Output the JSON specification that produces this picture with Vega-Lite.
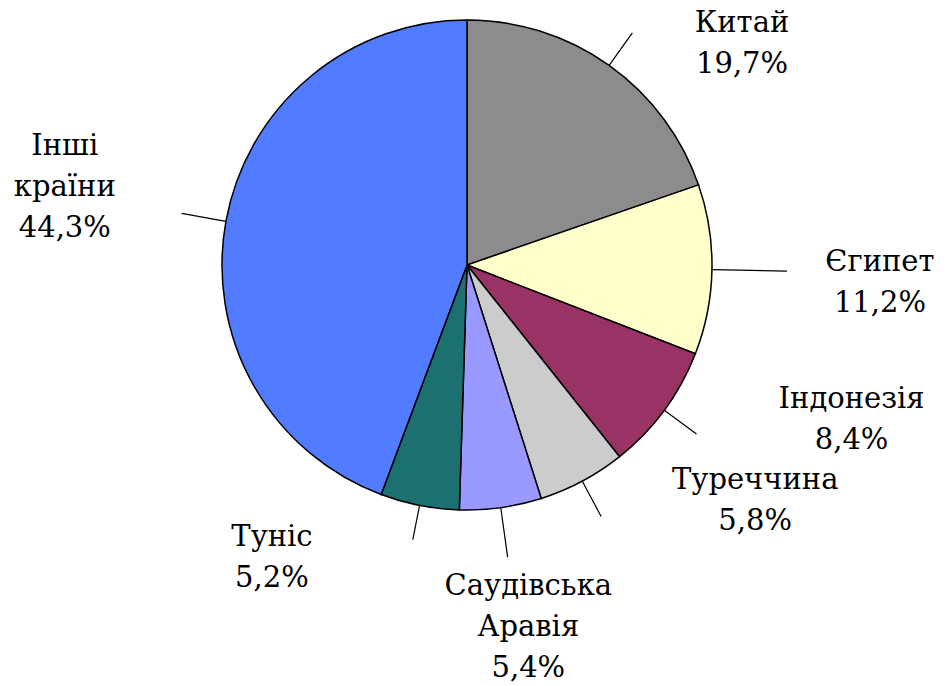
{
  "$schema": "https://vega.github.io/schema/vega-lite/v6.json",
  "width": 934,
  "height": 530,
  "autosize": {"type": "none"},
  "padding": {"left": 0, "top": 0, "right": 14, "bottom": 156},
  "background": "white",
  "config": {"view": {"stroke": null}},
  "data": {
    "values": [
      {"country": "Китай", "label": "Китай\n19,7%", "share": 19.7, "order": 1},
      {"country": "Єгипет", "label": "Єгипет\n11,2%", "share": 11.2, "order": 2},
      {"country": "Індонезія", "label": "Індонезія\n8,4%", "share": 8.4, "order": 3},
      {"country": "Туреччина", "label": "Туреччина\n5,8%", "share": 5.8, "order": 4},
      {"country": "Саудівська Аравія", "label": "Саудівська\nАравія\n5,4%", "share": 5.4, "order": 5},
      {"country": "Туніс", "label": "Туніс\n5,2%", "share": 5.2, "order": 6},
      {"country": "Інші країни", "label": "Інші\nкраїни\n44,3%", "share": 44.3, "order": 7}
    ]
  },
  "encoding": {
    "theta": {"field": "share", "type": "quantitative", "stack": true},
    "order": {"field": "order", "type": "quantitative"}
  },
  "layer": [
    {
      "mark": {"type": "arc", "radius": 245, "stroke": "#000000", "strokeWidth": 1.5},
      "encoding": {
        "color": {
          "field": "country",
          "type": "nominal",
          "scale": {
            "domain": ["Китай", "Єгипет", "Індонезія", "Туреччина", "Саудівська Аравія", "Туніс", "Інші країни"],
            "range": ["#8c8c8c", "#ffffcc", "#993366", "#cccccc", "#9999ff", "#1c7070", "#527cff"]
          },
          "legend": null
        }
      }
    },
    {
      "mark": {
        "type": "arc",
        "innerRadius": 245,
        "outerRadius": {"expr": "datum.country === 'Китай' ? 285 : datum.country === 'Єгипет' ? 320 : datum.country === 'Індонезія' ? 285 : datum.country === 'Туреччина' ? 285 : datum.country === 'Саудівська Аравія' ? 295 : datum.country === 'Туніс' ? 280 : 290"},
        "padAngle": 3,
        "fill": "#ffffff",
        "fillOpacity": 0,
        "stroke": "#000000",
        "strokeWidth": 1.2
      }
    },
    {
      "mark": {
        "type": "text",
        "radius": 300,
        "font": "DejaVu Serif",
        "fontSize": 29,
        "lineHeight": 41,
        "lineBreak": "\n",
        "align": "center",
        "baseline": "middle",
        "color": "#000000",
        "dx": {"expr": "datum.country === 'Китай' ? 101 : datum.country === 'Єгипет' ? 113 : datum.country === 'Індонезія' ? 143 : datum.country === 'Туреччина' ? 147 : datum.country === 'Саудівська Аравія' ? 20 : datum.country === 'Туніс' ? -137 : -107"},
        "dy": {"expr": "datum.country === 'Китай' ? 2 : datum.country === 'Єгипет' ? -9 : datum.country === 'Індонезія' ? -44 : datum.country === 'Туреччина' ? -50 : datum.country === 'Саудівська Аравія' ? 24 : datum.country === 'Туніс' ? -22 : -66"}
      },
      "encoding": {
        "text": {"field": "label", "type": "nominal"}
      }
    }
  ]
}
